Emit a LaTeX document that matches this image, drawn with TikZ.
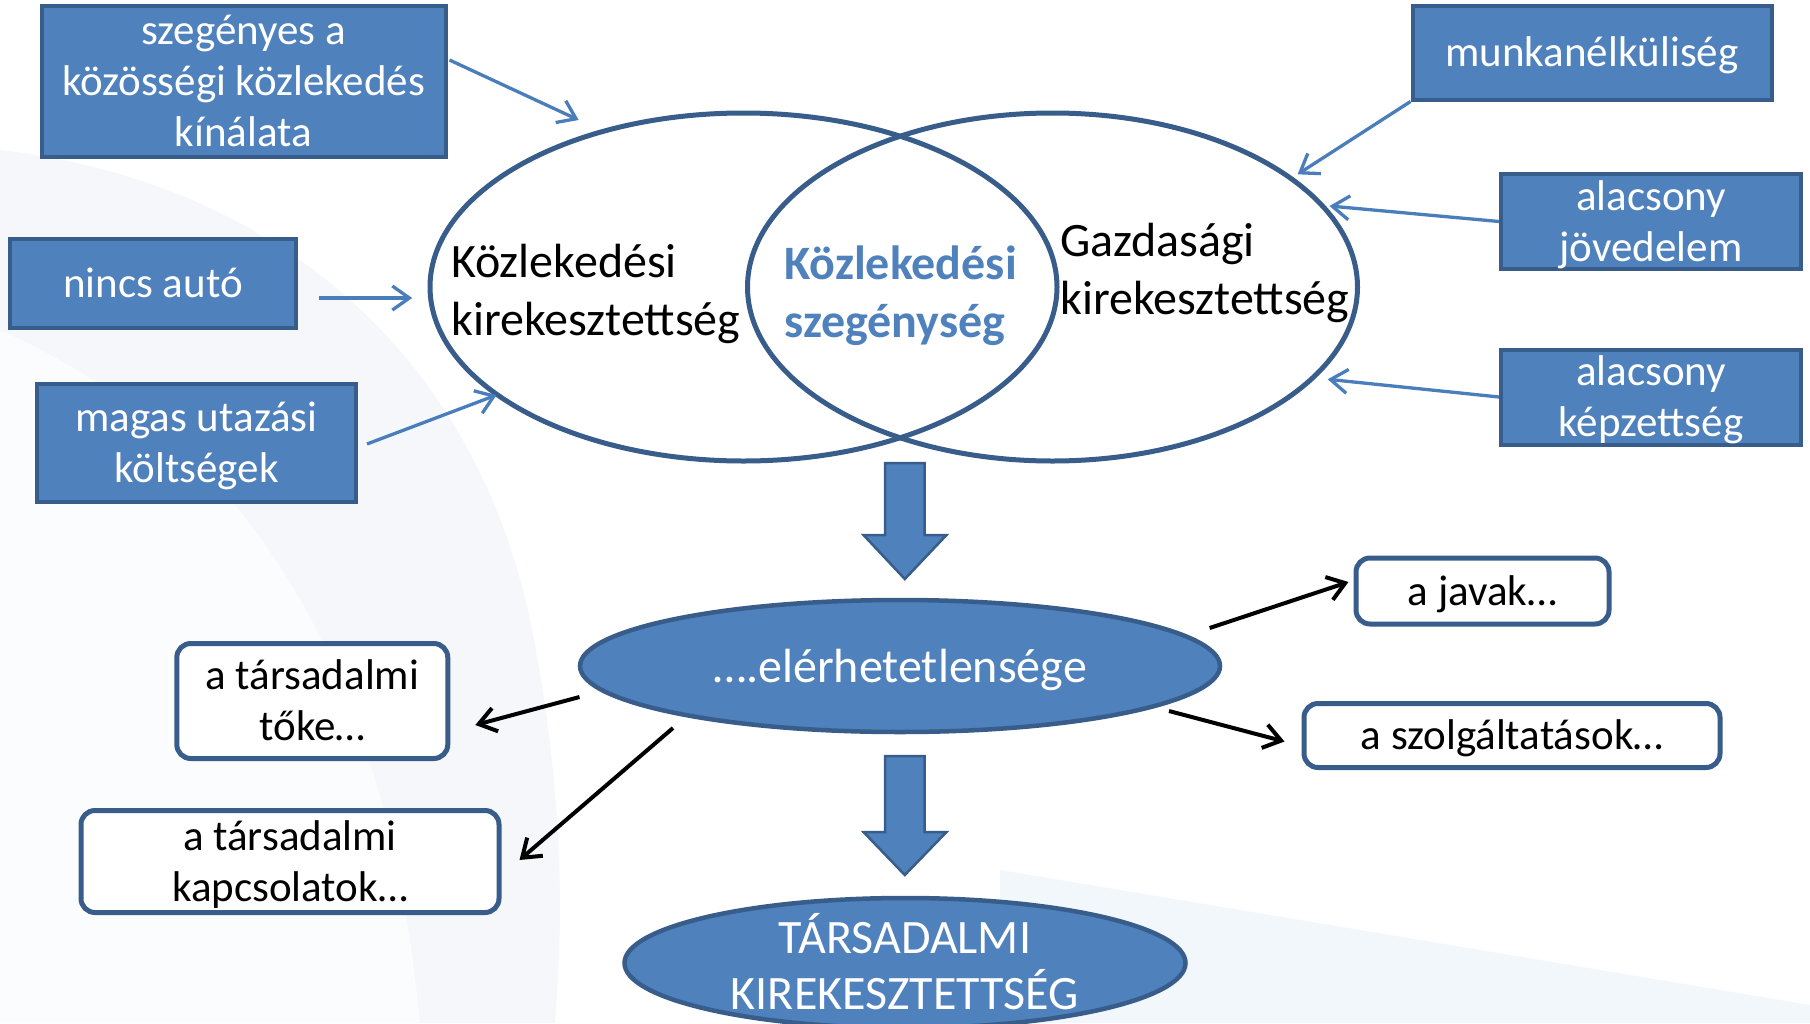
\documentclass[tikz,border=0pt]{standalone}
\usepackage{fontspec}
\setmainfont{Carlito}
\usetikzlibrary{shapes.geometric,arrows.meta}
\definecolor{boxfill}{HTML}{4F81BD}
\definecolor{boxline}{HTML}{385D8A}
\definecolor{arrblue}{HTML}{4A7EBB}
\definecolor{bgA}{HTML}{F5F7FA}
\definecolor{bgB}{HTML}{F2F7FB}
\begin{document}
\begin{tikzpicture}[x=1pt,y=-1pt,
  bluebox/.style={draw=boxline, fill=boxfill, line width=4pt, text=white,
    font=\fontsize{43}{51}\selectfont, align=center, inner sep=0pt},
  whitebox/.style={draw=boxline, fill=white, line width=5pt, rounded corners=14pt,
    text=black, font=\fontsize{43}{51}\selectfont, align=center, inner sep=0pt},
  one/.style={text height=35.8pt, text depth=7.2pt},
  two/.style={text height=86.8pt, text depth=7.2pt},
  three/.style={text height=137.8pt, text depth=7.2pt},
  venn/.style={ellipse, draw=boxline, line width=5pt, inner sep=0pt},
  bigell/.style={ellipse, draw=boxline, fill=boxfill, line width=4.5pt, inner sep=0pt},
  venntext/.style={font=\fontsize{48}{58}\selectfont, align=left, inner sep=0pt,
    text height=98pt, text depth=8pt},
  bluearr/.style={draw=arrblue, line width=3.3pt, -{Straight Barb[length=17pt,width=24pt]}},
  blackarr/.style={draw=black, line width=4pt, -{Straight Barb[length=17pt,width=24pt]}},
  blockarr/.style={fill=boxfill, draw=boxline, line width=2.5pt, line join=miter}
]
\useasboundingbox (0,0) rectangle (1810,1023);
\clip (0,0) rectangle (1810,1023);
\fill[white] (0,0) rectangle (1810,1023);
% faint background swooshes
\fill[bgA] (0,150) .. controls (260,180) and (470,340) .. (530,620)
  .. controls (570,820) and (560,950) .. (555,1023) -- (0,1023) -- cycle;
\fill[white!60!bgA] (0,330) .. controls (200,420) and (380,600) .. (420,1023) -- (0,1023) -- cycle;
\fill[bgB] (1000,870) -- (1810,1005) -- (1810,1023) -- (1000,1023) -- cycle;

% Venn diagram
\fill[white] (743.5,287) ellipse [x radius=313.5, y radius=174];
\fill[white] (1052.5,287) ellipse [x radius=305, y radius=174];
\node[venn, minimum width=627pt, minimum height=348pt] (L) at (743.5,287) {};
\node[venn, minimum width=610pt, minimum height=348pt] (R) at (1052.5,287) {};
\node[venntext, anchor=west] (tL) at (451,290) {Közlekedési\\kirekesztettség};
\node[venntext, anchor=west, font=\fontsize{48}{58}\selectfont\bfseries, text=boxfill] (tM) at (784,292) {Közlekedési\\szegénység};
\node[venntext, anchor=west] (tR) at (1060,269) {Gazdasági\\kirekesztettség};

% blue boxes
\node[bluebox, three, minimum width=404pt, minimum height=151pt] (b1) at (243.5,81) {szegényes a\\közösségi közlekedés\\kínálata};
\node[bluebox, one, minimum width=286pt, minimum height=89pt] (b2) at (153,283) {nincs autó};
\node[bluebox, two, minimum width=319pt, minimum height=118pt] (b3) at (196.5,442.5) {magas utazási\\költségek};
\node[bluebox, one, minimum width=359pt, minimum height=94pt] (b4) at (1592,52.5) {munkanélküliség};
\node[bluebox, two, minimum width=300pt, minimum height=95pt] (b5) at (1651,221.5) {alacsony\\jövedelem};
\node[bluebox, two, minimum width=300pt, minimum height=95pt] (b6) at (1651,397) {alacsony\\képzettség};

% blue arrows
\coordinate (t1) at (578.7,120);
\coordinate (t2) at (412.2,298);
\coordinate (t3) at (496.6,395);
\coordinate (t4) at (1297.6,174.3);
\coordinate (t5) at (1329.5,206);
\coordinate (t6) at (1327.7,379.3);
\draw[bluearr] ([shift={(2,-21)}]b1.east) -- (t1);
\draw[bluearr] ([shift={(21,15)}]b2.east) -- (t2);
\draw[bluearr] ([shift={(9,1.5)}]b3.east) -- (t3);
\draw[bluearr] (b4.south west) -- (t4);
\draw[bluearr] (b5.west) -- (t5);
\draw[bluearr] (b6.west) -- (t6);

% block arrows
\path[blockarr] (885,463) -- (924.6,463) -- (924.6,535) -- (946.5,535) -- (904.8,579)
  -- (863.5,535) -- (885,535) -- cycle;
\path[blockarr] (885,756) -- (924.6,756) -- (924.6,832) -- (946.5,832) -- (904.8,875)
  -- (863.5,832) -- (885,832) -- cycle;

% middle ellipse
\node[bigell, minimum width=640pt, minimum height=132pt, text=white,
  font=\fontsize{48}{58}\selectfont, text height=40pt, text depth=8pt] (E) at (900,666) {….elérhetetlensége};

% white boxes
\node[whitebox, one, minimum width=253pt, minimum height=66pt] (jv) at (1482.5,591) {a javak…};
\node[whitebox, one, minimum width=416pt, minimum height=64pt] (sz) at (1512,735.5) {a szolgáltatások…};
\node[whitebox, two, minimum width=271pt, minimum height=115pt] (tk) at (312.3,701) {a társadalmi\\tőke…};
\node[whitebox, two, minimum width=418pt, minimum height=102pt] (kp) at (290,861.5) {a társadalmi\\kapcsolatok…};

% black arrows
\coordinate (e1) at (1209.7,628);
\coordinate (e2) at (1169,711);
\coordinate (e3) at (579.5,697);
\coordinate (e4) at (673,728);
\draw[blackarr] (e1) -- ([shift={(-5,-9)}]jv.west);
\draw[blackarr] (e2) -- ([shift={(-17,6)}]sz.west);
\draw[blackarr] (e3) -- ([shift={(25,24)}]tk.east);
\draw[blackarr] (e4) -- ([shift={(18,-1.5)}]kp.east);

% bottom ellipse
\node[bigell, minimum width=561pt, minimum height=130pt] (T) at (905,963) {};
\node[text=white, font=\fontsize{48}{56}\selectfont, align=center, inner sep=0pt,
  text height=96pt, text depth=8pt] (tT) at (905,965) {TÁRSADALMI\\KIREKESZTETTSÉG};
\end{tikzpicture}
\end{document}
